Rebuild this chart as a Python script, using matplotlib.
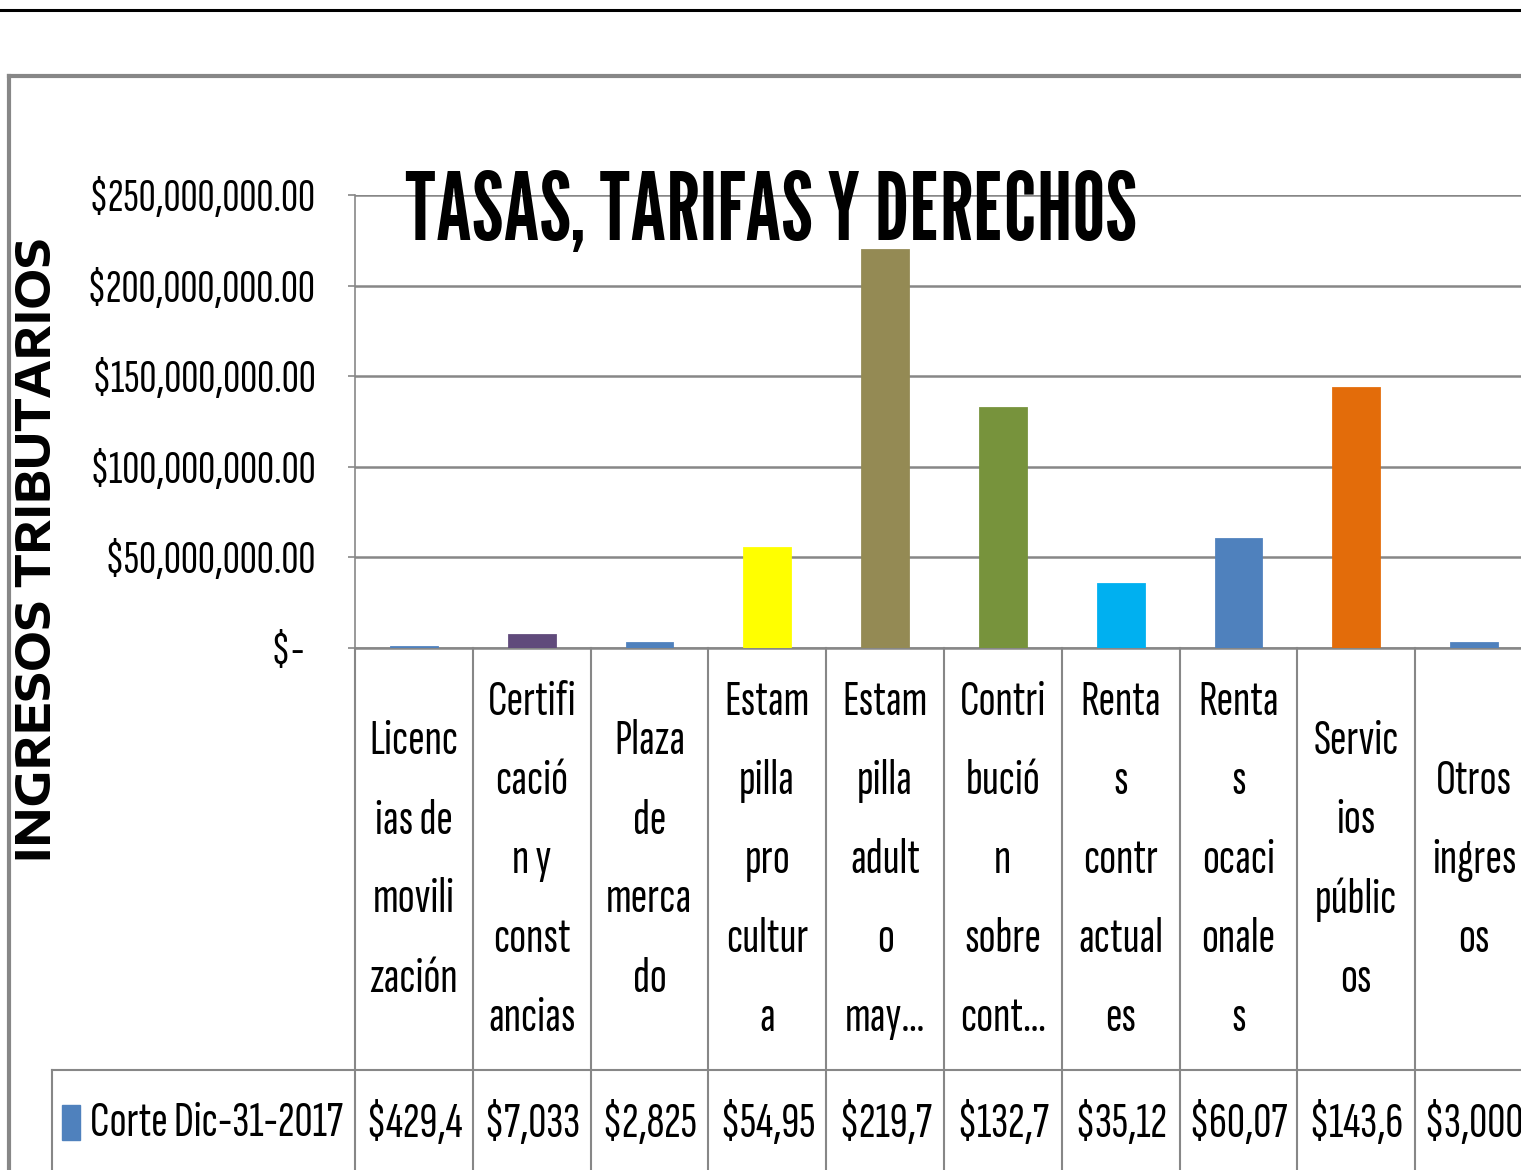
import matplotlib
matplotlib.use('Agg')
import matplotlib.pyplot as plt
from matplotlib.lines import Line2D
from matplotlib.patches import Rectangle
from matplotlib.transforms import blended_transform_factory

# datos (Corte Dic-31-2017)
categorias = ['Licenc\nias de\nmovili\nzación',
              'Certifi\ncació\nn y\nconst\nancias',
              'Plaza\nde\nmerca\ndo',
              'Estam\npilla\npro\ncultur\na',
              'Estam\npilla\nadult\no\nmay…',
              'Contri\nbució\nn\nsobre\ncont…',
              'Renta\ns\ncontr\nactual\nes',
              'Renta\ns\nocaci\nonale\ns',
              'Servic\nios\npúblic\nos',
              'Otros\ningres\nos']
valores = [429400, 7033000, 2825000, 54950000, 219700000,
           132700000, 35120000, 60070000, 143600000, 3000000]
colores = ['#4F81BD', '#604A7B', '#4F81BD', '#FFFF00', '#948A54',
           '#77933C', '#00B0F0', '#4F81BD', '#E36C0A', '#4F81BD']
serie = 'Corte Dic-31-2017'
ticks_y = [0, 50000000, 100000000, 150000000, 200000000, 250000000]

W, H = 1521, 1170
fuente = ['Sofia Sans Extra Condensed', 'DejaVu Sans']
gris = '#878787'

fig = plt.figure(figsize=(W / 100, H / 100), dpi=100)
fig.patch.set_facecolor('white')

def fx(px):
    return px / W

def fy(py):
    return 1 - py / H

# linea negra superior y marco del grafico
fig.add_artist(Line2D([0, 1], [fy(10), fy(10)], color='black', lw=2.2))
fig.add_artist(Line2D([fx(9), 1], [fy(76), fy(76)], color=gris, lw=3))
fig.add_artist(Line2D([fx(9), fx(9)], [fy(76), 0], color=gris, lw=3))

ax = fig.add_axes([fx(355), fy(648), fx(1533) - fx(355), fy(195) - fy(648)])
x = list(range(len(valores)))
ax.bar(x, valores, width=0.39, color=colores, edgecolor=colores, linewidth=2, zorder=3)
ax.set_xlim(-0.5, len(valores) - 0.5)
ax.set_ylim(0, 250000000)
ax.set_yticks(ticks_y)
ax.set_yticklabels(['$-  '] + ['${:,.2f}'.format(t) for t in ticks_y[1:]],
                   family=fuente, fontsize=34)
ax.set_xticks([])
ax.grid(axis='y', color=gris, lw=1.8, zorder=0)
for s in ['top', 'right']:
    ax.spines[s].set_visible(False)
ax.spines['left'].set_color(gris)
ax.spines['left'].set_linewidth(1.2)
ax.spines['bottom'].set_color(gris)
ax.spines['bottom'].set_linewidth(1.8)
ax.tick_params(axis='y', length=5, color=gris, width=1.2, pad=23)

# titulo
fig.text(fx(771), fy(240), 'TASAS, TARIFAS Y DERECHOS', ha='center', va='baseline',
         family=['League Gothic', 'DejaVu Sans'], fontsize=67, color='black')

# titulo del eje
fig.text(fx(37), fy(550), 'INGRESOS TRIBUTARIOS', rotation=90, ha='center', va='center',
         family=['Encode Sans Expanded', 'DejaVu Sans'], fontweight='bold', fontsize=33)

# tabla de datos
tr = blended_transform_factory(ax.transData, fig.transFigure)
for i in range(len(valores) + 1):
    fig.add_artist(Line2D([i - 0.5, i - 0.5], [fy(648), 0], transform=tr,
                          color=gris, lw=1.5, clip_on=False))
fig.add_artist(Line2D([fx(52), 1], [fy(1070), fy(1070)], color=gris, lw=1.5))
fig.add_artist(Line2D([fx(52), fx(52)], [fy(1070), 0], color=gris, lw=1.5))

for i, cat in enumerate(categorias):
    fig.text(i, fy(860), cat, transform=tr, ha='center', va='center',
             family=fuente, fontsize=36, linespacing=2.0, multialignment='center')
    fig.text(i, fy(1123), '${:,.2f}'.format(valores[i])[:6], transform=tr,
             ha='center', va='center', family=fuente, fontsize=36)

fig.add_artist(Rectangle((fx(62), fy(1140)), fx(80) - fx(62), fy(1105) - fy(1140),
                         transform=fig.transFigure, color='#4F81BD'))
fig.text(fx(90), fy(1123), serie, ha='left', va='center', family=fuente, fontsize=36)

fig.savefig('out.png', dpi=100)
